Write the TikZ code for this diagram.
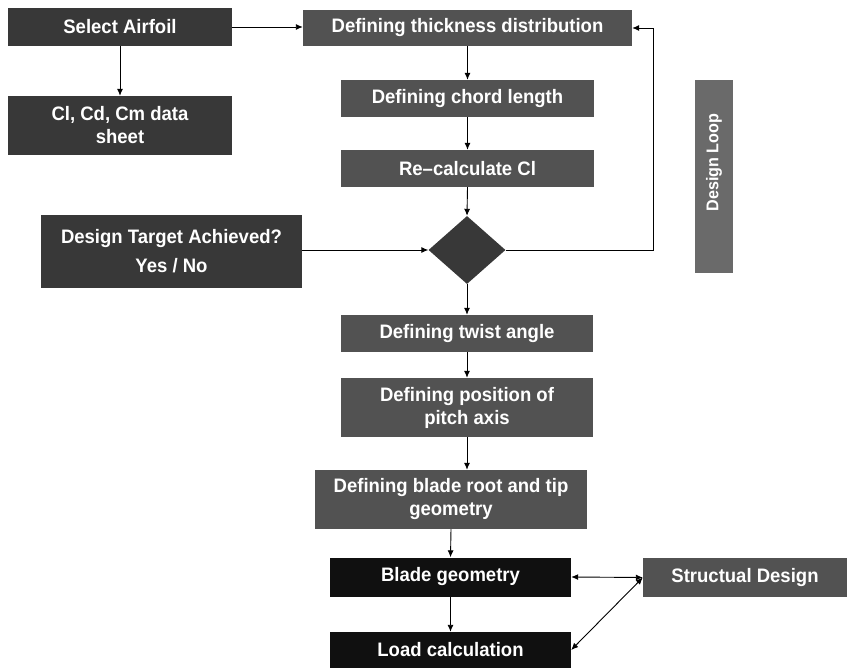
\documentclass[tikz,border=0pt]{standalone}
\usepackage{fontspec}
\setmainfont{Liberation Sans}[FakeStretch=0.95]
\usetikzlibrary{shapes.geometric,arrows.meta}
\definecolor{darkbox}{HTML}{383838}
\definecolor{midbox}{HTML}{525252}
\definecolor{loopbox}{HTML}{6A6A6A}
\definecolor{blackbox}{HTML}{101010}
\tikzset{
  boxbase/.style={rectangle, inner sep=0pt, text=white, font=\bfseries\fontsize{19.5}{23}\selectfont, align=center},
  darkb/.style={boxbase, fill=darkbox},
  midb/.style={boxbase, fill=midbox},
  blackb/.style={boxbase, fill=blackbox},
  conn/.style={line width=0.9pt, -{Latex[length=7pt,width=6pt]}},
  dconn/.style={line width=0.9pt, {Latex[length=7pt,width=6pt]}-{Latex[length=7pt,width=6pt]}},
}
\begin{document}
\begin{tikzpicture}[x=1pt,y=-1pt]
\useasboundingbox (0,0) rectangle (847,668);
% left column
\node[darkb, minimum width=224pt, minimum height=38pt] (sel) at (120,27) {Select Airfoil};
\node[darkb, minimum width=224pt, minimum height=59pt] (cl) at (120,125.5) {Cl, Cd, Cm data\\sheet};
\node[darkb, minimum width=261pt, minimum height=73pt] (tgt) at (171.5,251.5) {Design Target Achieved?\\[6pt]Yes / No};
% main column
\node[midb, minimum width=329pt, minimum height=36pt] (thick) at (467.5,28) {Defining thickness distribution};
\node[midb, minimum width=253pt, minimum height=37pt] (chord) at (467.5,98.5) {Defining chord length};
\node[midb, minimum width=253pt, minimum height=37pt] (recl) at (467.5,168.5) {Re--calculate Cl};
\node[diamond, fill=darkbox, minimum width=77pt, minimum height=68pt, inner sep=0pt] (dia) at (467,250) {};
\node[midb, minimum width=252pt, minimum height=37pt] (twist) at (467,333.5) {Defining twist angle};
\node[midb, minimum width=252pt, minimum height=59pt] (pitch) at (467,407.5) {Defining position of\\pitch axis};
\node[midb, minimum width=272pt, minimum height=59pt] (root) at (451,499.5) {Defining blade root and tip\\geometry};
\node[blackb, minimum width=241pt, minimum height=39pt] (blade) at (450.5,577) {Blade geometry};
\node[blackb, minimum width=241pt, minimum height=36pt] (load) at (450.5,650) {Load calculation};
\node[midb, minimum width=204pt, minimum height=39pt] (struct) at (745,577.5) {Structual Design};
% design loop label
\node[boxbase, fill=loopbox, minimum width=38pt, minimum height=193pt] (loop) at (714,176.5) {};
\node[boxbase, rotate=90, font=\bfseries\fontsize{17}{20}\selectfont] (looplbl) at ([yshift=14pt]loop.center) {Design Loop};
\coordinate (lc) at (653,28);
% connectors
\draw[conn] (sel.south) -- (cl.north);
\draw[conn] (sel.east) -- (sel.east -| thick.west);
\draw[conn] (thick.south) -- (chord.north);
\draw[conn] (chord.south) -- (recl.north);
\draw[conn] (recl.south) -- (dia.north);
\draw[conn] (tgt.east |- dia.west) -- (dia.west);
\draw[conn] (dia.east) -| (lc) -- (thick.east);
\draw[conn] (dia.south) -- (twist.north);
\draw[conn] (twist.south) -- (pitch.north);
\draw[conn] (pitch.south) -- (pitch.south |- root.north);
\draw[conn] (root.south) -- (blade.north);
\draw[conn] (blade.south) -- (load.north);
\draw[dconn] (blade.east) -- (struct.west);
\draw[dconn] (struct.west) -- (load.east);
\end{tikzpicture}
\end{document}
